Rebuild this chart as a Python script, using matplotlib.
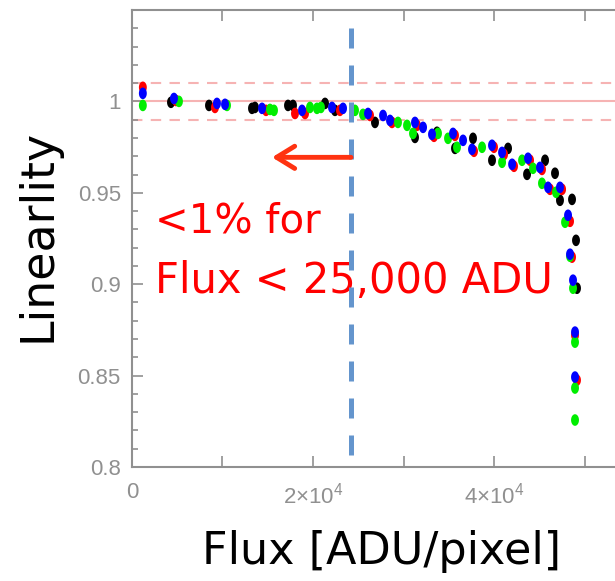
import numpy as np
import matplotlib
matplotlib.use("Agg")
import matplotlib.pyplot as plt
from matplotlib.path import Path
from matplotlib.ticker import MultipleLocator, FixedLocator, FixedFormatter

plt.rcParams["mathtext.fontset"] = "custom"
plt.rcParams["mathtext.rm"] = "Liberation Sans"

# mesures (flux en ADU/pixel, linéarité)
flux_bleu = [1200, 4640, 9390, 10280, 14370, 18790, 22100, 23320, 26080, 27740,
             28510, 31270, 32160, 33150, 35470, 36580, 37570, 39780, 40890, 42000,
             43760, 45080, 45970, 47290, 48180, 48400, 48730, 48950, 48950]
lin_bleu = [1.0044, 1.0016, 0.9989, 0.9984, 0.9962, 0.9951, 0.9967, 0.9962, 0.9934, 0.9923,
            0.9896, 0.9885, 0.9858, 0.9820, 0.9825, 0.9787, 0.9738, 0.9760, 0.9721, 0.9656,
            0.9689, 0.9639, 0.9530, 0.9530, 0.9377, 0.9164, 0.9022, 0.8738, 0.8492]

flux_rouge = [1200, 4860, 9170, 14810, 18010, 19120, 22980, 26300, 28730, 31490,
              33370, 35690, 37790, 40000, 41110, 42210, 43980, 45300, 46190, 47520,
              48400, 48620, 48950, 49170]
lin_rouge = [1.0077, 1.0005, 0.9967, 0.9951, 0.9934, 0.9934, 0.9951, 0.9923, 0.9885, 0.9869,
             0.9809, 0.9814, 0.9727, 0.9749, 0.9710, 0.9645, 0.9678, 0.9628, 0.9519, 0.9519,
             0.9344, 0.9148, 0.8721, 0.8475]

flux_vert = [1200, 5190, 10500, 15250, 15690, 19670, 20440, 20880, 24640, 25530,
             29390, 30390, 31050, 33810, 34920, 35910, 38680, 40890, 43100, 44310,
             45300, 46850, 47850, 48400, 48730, 48950, 48950, 48950]
lin_vert = [0.9978, 1.0000, 0.9978, 0.9956, 0.9951, 0.9967, 0.9962, 0.9967, 0.9951, 0.9929,
            0.9885, 0.9869, 0.9825, 0.9825, 0.9798, 0.9749, 0.9749, 0.9667, 0.9678, 0.9634,
            0.9552, 0.9503, 0.9339, 0.9153, 0.8978, 0.8683, 0.8432, 0.8257]

flux_noir = [4310, 8510, 13260, 13590, 17240, 17790, 21330, 22430, 26850, 31270,
             33700, 35690, 37680, 39780, 41550, 43650, 45640, 46740, 47290, 48620,
             49060, 49170]
lin_noir = [0.9995, 0.9978, 0.9962, 0.9967, 0.9978, 0.9978, 0.9989, 0.9951, 0.9885, 0.9803,
            0.9831, 0.9743, 0.9798, 0.9678, 0.9743, 0.9601, 0.9678, 0.9607, 0.9459, 0.9464,
            0.9240, 0.8978]

x_ticks = [0, 10000, 20000, 30000, 40000, 50000, 60000]
x_labels = ["0", "", "2×10$^{4}$", "", "4×10$^{4}$", "", ""]
y_ticks = [0.8, 0.85, 0.9, 0.95, 1.0]
y_labels = ["0.8", "0.85", "0.9", "0.95", "1"]

limite_flux = 24200

# marqueur ovale (points étirés verticalement)
t = np.linspace(0, 2 * np.pi, 40)
ovale = Path(np.column_stack([0.68 * np.cos(t), np.sin(t)]), closed=True)

fig = plt.figure(figsize=(6.15, 5.81), dpi=100)
ax = fig.add_axes([0.2146, 0.1962, 0.883, 0.7866])

gris = "#909090"

# lignes de référence roses
ax.axhline(1.0, color="#f6b3b3", lw=1.5, zorder=1)
for y in (1.01, 0.99):
    ax.axhline(y, color="#f6b3b3", lw=1.5, dashes=(5, 4), zorder=1)

series = [
    (flux_noir, lin_noir, "black"),
    (flux_rouge, lin_rouge, "#ff0000"),
    (flux_vert, lin_vert, "#00ee00"),
    (flux_bleu, lin_bleu, "#0000ff"),
]
for fx, li, c in series:
    ax.scatter(fx, li, marker=ovale, s=70, color=c, edgecolors="none", zorder=3)

# limite verticale
ax.plot([limite_flux, limite_flux], [1.0404, 0.8], color="#6495cd", lw=3.6,
        dashes=(4, 3.4), zorder=4, clip_on=False)

# flèche
ax.annotate("", xy=(15470, 0.9694), xytext=(limite_flux, 0.9694),
            arrowprops=dict(arrowstyle="->,head_length=1.3,head_width=0.8",
                            color="#ff3311", lw=3.5, shrinkA=0, shrinkB=0),
            zorder=5)

ax.text(2540, 0.9284, "<1% for", color="#ff0000", fontsize=29, va="baseline")
ax.text(2540, 0.8951, "Flux < 25,000 ADU", color="#ff0000", fontsize=30, va="baseline")

ax.set_xlim(0, 60000)
ax.set_ylim(0.8, 1.05)

ax.xaxis.set_major_locator(FixedLocator(x_ticks))
ax.xaxis.set_major_formatter(FixedFormatter(x_labels))
ax.yaxis.set_major_locator(FixedLocator(y_ticks))
ax.yaxis.set_major_formatter(FixedFormatter(y_labels))
ax.yaxis.set_minor_locator(MultipleLocator(0.01))

ax.tick_params(which="both", direction="in", top=True, right=True, color=gris,
               labelcolor=gris, labelsize=16, width=1.2)
ax.tick_params(which="major", length=8, pad=8)
ax.tick_params(axis="x", which="major", pad=11)
ax.tick_params(which="minor", length=4)
for lab in ax.get_xticklabels() + ax.get_yticklabels():
    lab.set_family("Liberation Sans")
for s in ax.spines.values():
    s.set_color(gris)
    s.set_linewidth(1.5)

fig.text(0.062, 0.595, "Linearlity", rotation=90, fontsize=33, ha="center", va="center")
fig.text(0.62, 0.05, "Flux [ADU/pixel]", fontsize=32, ha="center", va="center")

fig.savefig("out.png", dpi=100)
